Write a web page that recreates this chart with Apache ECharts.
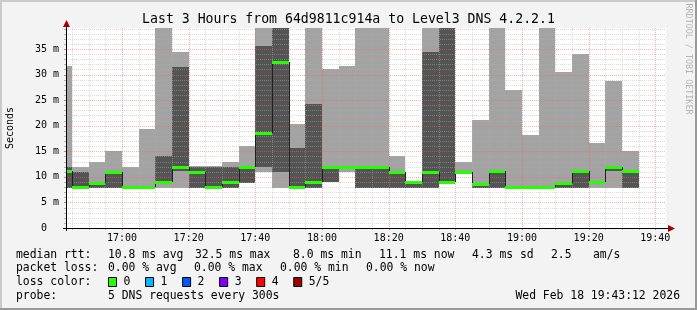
<!DOCTYPE html>
<html><head><meta charset="utf-8">
<script src="https://cdn.jsdelivr.net/npm/echarts@6/dist/echarts.min.js"></script>
<style>html,body{margin:0;padding:0;background:#f3f3f3;}#c{width:697px;height:310px;}</style>
</head><body><div id="c"></div>
<script>
// ---- data (5 DNS pings per 300 s step, sorted: min, 2nd, median, 4th, max; ms) ----
const binEnd  = ['16:45','16:50','16:55','17:00','17:05','17:10','17:15','17:20','17:25','17:30',
                 '17:35','17:40','17:45','17:50','17:55','18:00','18:05','18:10','18:15','18:20',
                 '18:25','18:30','18:35','18:40','18:45','18:50','18:55','19:00','19:05','19:10',
                 '19:15','19:20','19:25','19:30','19:35'];
const pingMin = [7.9,7.9,7.9,7.9,7.8,7.8,7.9,7.9,7.9,7.8, 7.9,8.7,10.9,7.9,7.8,7.9,8.9,10.9,7.9,7.9,
                 7.9,7.9,7.9,8.8,10.9,7.9,7.9,7.8,7.8,7.8, 7.9,7.9,7.9,7.9,7.9];
const ping2   = [7.9,7.9,7.9,7.9,7.9,7.9,8.8,11.2,7.9,7.9, 7.9,8.7,12.0,10.9,7.9,7.9,8.9,11.9,7.9,7.9,
                 7.9,7.9,7.9,8.8,10.9,7.9,7.9,7.9,7.9,7.9, 7.9,7.9,8.8,11.2,7.9];
const median  = [11.2,8.0,8.8,11.0,8.0,8.0,8.9,12.0,11.0,8.0, 8.9,12.0,18.5,32.5,8.0,8.9,12.0,12.0,12.0,12.0,
                 11.0,8.9,11.0,8.9,11.0,8.6,11.2,8.0,8.0,8.0, 8.7,11.1,8.9,12.0,11.1];
const ping4   = [12.0,10.9,9.0,11.1,8.1,8.1,14.1,31.4,12.0,12.0, 12.0,12.1,35.5,45,15.6,24.2,12.1,12.1,12.1,12.1,
                 11.1,9.0,34.4,45,11.1,8.7,11.3,8.1,8.1,8.1, 8.8,11.2,8.9,12.1,11.1];
const pingMax = [31.7,12.0,12.9,15.0,12.0,19.4,45,34.4,12.1,12.1, 12.9,16.0,45,50,20.3,45,31.1,31.7,45,45,
                 14.1,9.1,45,50,12.9,21.1,45,26.9,18.2,45, 30.5,34.0,16.6,28.7,15.0];
const lossPct = new Array(35).fill(0);

const viewStart = '16:43:12', viewEnd = '19:43:12';
const yMax = 39.1;
const yTicks = [0,5,10,15,20,25,30,35];
const xTickLabels = ['17:00','17:20','17:40','18:00','18:20','18:40','19:00','19:20','19:40'];
const lossColors = ['#26ff00','#00b8ff','#0059ff','#7e00ff','#ff0000','#a10000'];
const lossLabels = ['0','1','2','3','4','5/5'];

const title = 'Last 3 Hours from 64d9811c914a to Level3 DNS 4.2.2.1';
const legendRows = [
  [['median rtt:',16],['10.8 ms avg',108],['32.5 ms max',195],['8.0 ms min',293],['11.1 ms now',379],['4.3 ms sd',472],['2.5',551],['am/s',593]],
  [['packet loss:',16],['0.00 % avg',108],['0.00 % max',194],['0.00 % min',280],['0.00 % now',366]]
];
const probeText = '5 DNS requests every 300s';
const stampText = 'Wed Feb 18 19:43:12 2026';

// ---- helpers ----
function toMin(s){const p=s.split(':').map(Number);return (p[0]-16)*60+p[1]+(p[2]||0)/60;}
function fmt(v){const t=Math.round(v);const h=16+Math.floor(t/60), m=t%60;return h+':'+(m<10?'0':'')+m;}
const FONT = "'DejaVu Sans Mono', monospace";
const xMin = toMin(viewStart), xMax = toMin(viewEnd);

const bins = binEnd.map((t,i)=>[toMin(t)-5, toMin(t), pingMin[i], ping2[i], median[i], ping4[i], pingMax[i],
                                 i>0?median[i-1]:median[i], lossPct[i]]);

function clip(r, cs){return echarts.graphic.clipRectByRect(r,{x:cs.x,y:cs.y,width:cs.width,height:cs.height});}

function smokeItem(params, api){
  const cs = params.coordSys;
  const x0 = Math.round(api.coord([api.value(0),0])[0]);
  const x1 = Math.round(api.coord([api.value(1),0])[0]);
  const band = (lo,hi,fill)=>{
    const yl = Math.round(api.coord([0,lo])[1]), yh = Math.round(api.coord([0,hi])[1]);
    const s = clip({x:x0,y:yh,width:x1-x0,height:yl-yh}, cs);
    return s ? {type:'rect',shape:s,style:{fill:fill}} : null;
  };
  return {type:'group',children:[band(api.value(2),api.value(6),'#a3a3a3'), band(api.value(3),api.value(5),'#545454')].filter(Boolean)};
}
function medianItem(params, api){
  const cs = params.coordSys;
  const x0 = Math.round(api.coord([api.value(0),0])[0]);
  const x1 = Math.round(api.coord([api.value(1),0])[0]);
  const ym = api.coord([0,api.value(4)])[1];
  const yp = api.coord([0,api.value(7)])[1];
  const loss = api.value(8);
  const col = lossColors[Math.min(5, Math.round(loss/20))];
  const ch = [];
  if (x0 > cs.x) ch.push({type:'line',shape:{x1:x0+0.5,y1:Math.round(yp),x2:x0+0.5,y2:Math.round(ym)},style:{stroke:'#202020',lineWidth:1}});
  const s = clip({x:x0,y:Math.round(ym)-1,width:x1-x0,height:3}, cs);
  if (s) ch.push({type:'rect',shape:s,style:{fill:col}});
  return {type:'group',children:ch};
}
const MINOR = 'rgba(176,176,176,0.45)', MAJOR = 'rgba(255,96,96,0.5)';
function gridItem(params, api){
  const cs = params.coordSys;
  const ch = [];
  const L = cs.x, R = cs.x+cs.width, T = cs.y, B = cs.y+cs.height;
  for (let v=1; v<yMax; v++){
    const y = Math.round(api.coord([xMin,v])[1])+0.5;
    const major = v%5===0;
    ch.push({type:'line',shape:{x1:L,y1:y,x2:R,y2:y},style:{stroke:major?MAJOR:MINOR,lineWidth:1,lineDash:[1,1]}});
    ch.push({type:'line',shape:{x1:L-2,y1:y,x2:L,y2:y},style:{stroke:major?'#f07070':'#b0b0b0',lineWidth:1}});
  }
  for (let m=Math.ceil(xMin/5)*5; m<=xMax; m+=5){
    const x = Math.round(api.coord([m,0])[0])+0.5;
    const major = m%20===0;
    ch.push({type:'line',shape:{x1:x,y1:T,x2:x,y2:B},style:{stroke:major?MAJOR:MINOR,lineWidth:1,lineDash:[1,1]}});
    ch.push({type:'line',shape:{x1:x,y1:B,x2:x,y2:B+2},style:{stroke:major?'#f07070':'#b0b0b0',lineWidth:1}});
  }
  return {type:'group',children:ch};
}

// ---- graphics: frame, axes arrows, title, legend ----
const g = [];
g.push({type:'rect',shape:{x:0,y:0,width:697,height:310},style:{fill:'#f3f3f3'},z:-10,silent:true});
g.push({type:'rect',shape:{x:0,y:0,width:697,height:2},style:{fill:'#cbcbcb'},z:-9});
g.push({type:'rect',shape:{x:0,y:0,width:2,height:310},style:{fill:'#cbcbcb'},z:-9});
g.push({type:'rect',shape:{x:695,y:0,width:2,height:310},style:{fill:'#999999'},z:-9});
g.push({type:'rect',shape:{x:0,y:308,width:697,height:2},style:{fill:'#999999'},z:-9});
g.push({type:'text',x:348.5,y:20,style:{text:title,font:'13.2px '+FONT,fill:'#000',align:'center',verticalAlign:'middle'},z:50});
g.push({type:'text',x:10.5,y:128,rotation:Math.PI/2,style:{text:'Seconds',font:'10px '+FONT,fill:'#000',align:'center',verticalAlign:'middle'},z:50});
g.push({type:'text',x:688,y:59,rotation:-Math.PI/2,style:{text:'RRDTOOL / TOBI OETIKER',font:'8.4px '+FONT,fill:'#b4b4b4',align:'center',verticalAlign:'middle'},z:50});
// axes
g.push({type:'line',shape:{x1:66.5,y1:231,x2:66.5,y2:26},style:{stroke:'#000',lineWidth:1},z:60});
g.push({type:'line',shape:{x1:63,y1:228.5,x2:669,y2:228.5},style:{stroke:'#000',lineWidth:1},z:60});
g.push({type:'polygon',shape:{points:[[63,27],[70,27],[66.5,20]]},style:{fill:'#a00000'},z:61});
g.push({type:'polygon',shape:{points:[[668,225],[668,232],[675,228.5]]},style:{fill:'#a00000'},z:61});
// legend rows
const rowY = [255,268.5,282,296];
legendRows.forEach((row,r)=>row.forEach(([t,x])=>g.push({type:'text',x:x,y:rowY[r],style:{text:t,font:'11.4px '+FONT,fill:'#000',verticalAlign:'middle'},z:50})));
g.push({type:'text',x:16,y:rowY[2],style:{text:'loss color:',font:'11.4px '+FONT,fill:'#000',verticalAlign:'middle'},z:50});
lossColors.forEach((c,i)=>{
  const bx = 108 + i*37.05;
  g.push({type:'rect',shape:{x:bx+0.5,y:277.5,width:8,height:9},style:{fill:c,stroke:'#000',lineWidth:1},z:50});
  g.push({type:'text',x:bx+15.5,y:rowY[2],style:{text:lossLabels[i],font:'11.4px '+FONT,fill:'#000',verticalAlign:'middle'},z:50});
});
g.push({type:'text',x:16,y:rowY[3],style:{text:'probe:',font:'11.4px '+FONT,fill:'#000',verticalAlign:'middle'},z:50});
g.push({type:'text',x:108,y:rowY[3],style:{text:probeText,font:'11.4px '+FONT,fill:'#000',verticalAlign:'middle'},z:50});
g.push({type:'text',x:680,y:rowY[3],style:{text:stampText,font:'11.4px '+FONT,fill:'#000',align:'right',verticalAlign:'middle'},z:50});

const chart = echarts.init(document.getElementById('c'), null, {renderer:'canvas', width:697, height:310});
chart.setOption({
  animation:false,
  backgroundColor:'#f3f3f3',
  grid:{left:66, right:31, top:28, bottom:82, show:true, backgroundColor:'#ffffff', borderWidth:0},
  xAxis:{type:'value', min:xMin, max:xMax, splitLine:{show:false}, axisLine:{show:false}, axisTick:{show:false},
         axisLabel:{customValues:xTickLabels.map(toMin), formatter:v=>fmt(v), fontFamily:FONT, fontSize:10, color:'#000', margin:5}},
  yAxis:{type:'value', min:0, max:yMax, interval:5, splitLine:{show:false}, axisLine:{show:false}, axisTick:{show:false},
         axisLabel:{customValues:yTicks, formatter:v=>v===0?'0  ':v+' m', fontFamily:FONT, fontSize:10, color:'#000', margin:7}},
  graphic:g,
  series:[
    {type:'custom', z:2, renderItem:smokeItem, data:bins, encode:{x:[0,1], y:[2,6]}, clip:true},
    {type:'custom', z:3, renderItem:gridItem, data:[[xMin,0]], silent:true},
    {type:'custom', z:4, renderItem:medianItem, data:bins, encode:{x:[0,1], y:4}, clip:true}
  ]
});
</script></body></html>
